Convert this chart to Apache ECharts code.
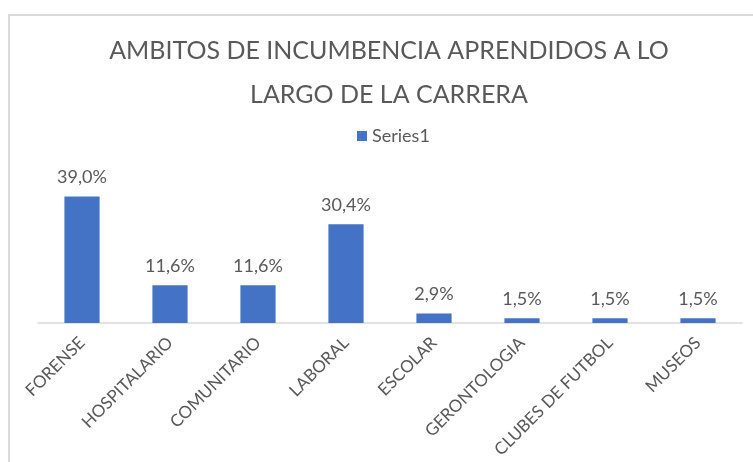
<!DOCTYPE html>
<html>
<head>
<meta charset="utf-8">
<script src="https://cdn.jsdelivr.net/npm/echarts@6/dist/echarts.min.js"></script>
<style>
  html, body { margin: 0; padding: 0; background: #fff; }
  #chart { width: 753px; height: 462px; }
</style>
</head>
<body>
<div id="chart"></div>
<script>
const categories = ['FORENSE', 'HOSPITALARIO', 'COMUNITARIO', 'LABORAL', 'ESCOLAR', 'GERONTOLOGIA', 'CLUBES DE FUTBOL', 'MUSEOS']
const values = [39.0, 11.6, 11.6, 30.4, 2.9, 1.5, 1.5, 1.5]
const seriesName = 'Series1'
const titleText = 'AMBITOS DE INCUMBENCIA APRENDIDOS A LO\nLARGO DE LA CARRERA'

const font = 'Lato'
const grey = '#595959'

const myChart = echarts.init(document.getElementById('chart'))
const option = {
  animation: false,
  title: {
    text: titleText,
    left: 389,
    top: 29,
    textAlign: 'center',
    padding: 0,
    textStyle: {
      fontFamily: font,
      fontSize: 25,
      fontWeight: 'normal',
      color: grey,
      lineHeight: 44,
    },
  },
  legend: {
    data: [seriesName],
    left: 357,
    top: 127,
    padding: 0,
    icon: 'rect',
    itemWidth: 10,
    itemHeight: 10,
    textStyle: {
      fontFamily: font,
      fontSize: 18,
      color: grey,
    },
  },
  graphic: [
    {
      type: 'rect',
      shape: { x: 9, y: 15, width: 800, height: 500 },
      style: { fill: 'none', stroke: '#d9d9d9', lineWidth: 2 },
      silent: true,
    },
  ],
  grid: {
    left: 38,
    right: 11,
    top: 177,
    bottom: 139,
    containLabel: false,
  },
  xAxis: {
    type: 'category',
    data: categories,
    axisLine: { lineStyle: { color: '#d9d9d9', width: 1.5 } },
    axisTick: { show: false },
    axisLabel: {
      interval: 0,
      rotate: 45,
      margin: 17,
      fontFamily: font,
      fontSize: 17,
      color: grey,
    },
  },
  yAxis: {
    type: 'value',
    min: 0,
    max: 45,
    show: false,
    splitLine: { show: false },
  },
  series: [
    {
      name: seriesName,
      type: 'bar',
      data: values,
      barWidth: '40%',
      itemStyle: { color: '#4472C4' },
      label: {
        show: true,
        position: 'top',
        distance: 10,
        fontFamily: font,
        fontSize: 18,
        color: grey,
        formatter: function (p) {
          return p.value.toFixed(1).replace('.', ',') + '%'
        },
      },
    },
  ],
}
myChart.setOption(option)
</script>
</body>
</html>
